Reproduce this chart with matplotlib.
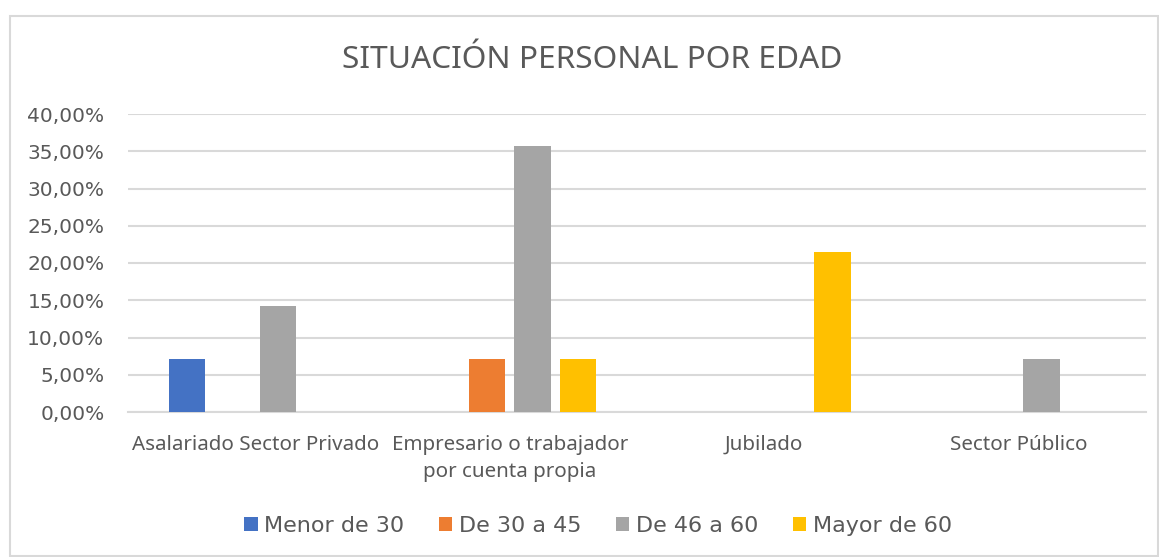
import matplotlib
matplotlib.use("Agg")
import matplotlib.pyplot as plt
from matplotlib.patches import Rectangle, Patch
from matplotlib.ticker import FuncFormatter
import numpy as np

categories = ["Asalariado Sector Privado", "Empresario o trabajador\npor cuenta propia",
              "Jubilado", "Sector Público"]
series_names = ["Menor de 30", "De 30 a 45", "De 46 a 60", "Mayor de 60"]
menor_30 = [7.14, 0.0, 0.0, 0.0]
de_30_45 = [0.0, 7.14, 0.0, 0.0]
de_46_60 = [14.29, 35.71, 0.0, 7.14]
mayor_60 = [0.0, 7.14, 21.43, 0.0]
series_values = [menor_30, de_30_45, de_46_60, mayor_60]
colors = ["#4472C4", "#ED7D31", "#A5A5A5", "#FFC000"]
yticks = [0, 5, 10, 15, 20, 25, 30, 35, 40]

W, H = 1159, 557
fig = plt.figure(figsize=(W / 100, H / 100), dpi=100)
ax = fig.add_axes([128 / W, 1 - 412 / H, (1146 - 128) / W, (412 - 114) / H])

text_col = "#595959"
grid_col = "#D9D9D9"

x = np.arange(len(categories))
slot = 0.179
bw = 0.143
for i, (name, vals, c) in enumerate(zip(series_names, series_values, colors)):
    ax.bar(x + (i - 1.5) * slot, vals, width=bw, color=c, label=name, zorder=3)

ax.set_xlim(-0.5, len(categories) - 0.5)
ax.set_ylim(0, 40)
ax.set_yticks(yticks)
ax.yaxis.set_major_formatter(FuncFormatter(lambda v, p: f"{v:.2f}%".replace(".", ",")))
ax.grid(axis="y", color=grid_col, linewidth=1.5, zorder=0)
for s in ["top", "right", "left"]:
    ax.spines[s].set_visible(False)
ax.spines["bottom"].set_color(grid_col)
ax.spines["bottom"].set_linewidth(1.5)
ax.tick_params(axis="both", length=0)
ax.tick_params(axis="y", pad=17, labelsize=14.5, labelcolor=text_col)
ax.set_xticks(x)
ax.set_xticklabels(categories, fontfamily="Noto Sans", fontsize=14.8, color=text_col,
                   linespacing=1.48)
ax.tick_params(axis="x", pad=16.5)

fig.text(592 / W, 1 - 60 / H, "SITUACIÓN PERSONAL POR EDAD", ha="center", va="center",
         fontsize=22.8, color=text_col, fontfamily="Noto Sans")

handles = [Patch(facecolor=c, edgecolor="none") for c in colors]
leg = fig.legend(handles, series_names, loc="center", bbox_to_anchor=(598 / W, 1 - 526 / H),
                 ncol=4, frameon=False, handlelength=0.6, handleheight=0.6,
                 handletextpad=0.3, columnspacing=1.55, fontsize=16)
for t in leg.get_texts():
    t.set_color(text_col)

fig.patches.append(Rectangle((10 / W, 1 / H), (1158 - 10) / W, (556 - 16) / H,
                             transform=fig.transFigure, fill=False,
                             edgecolor=grid_col, linewidth=1.5))

fig.savefig("out.png", dpi=100, facecolor="white")
